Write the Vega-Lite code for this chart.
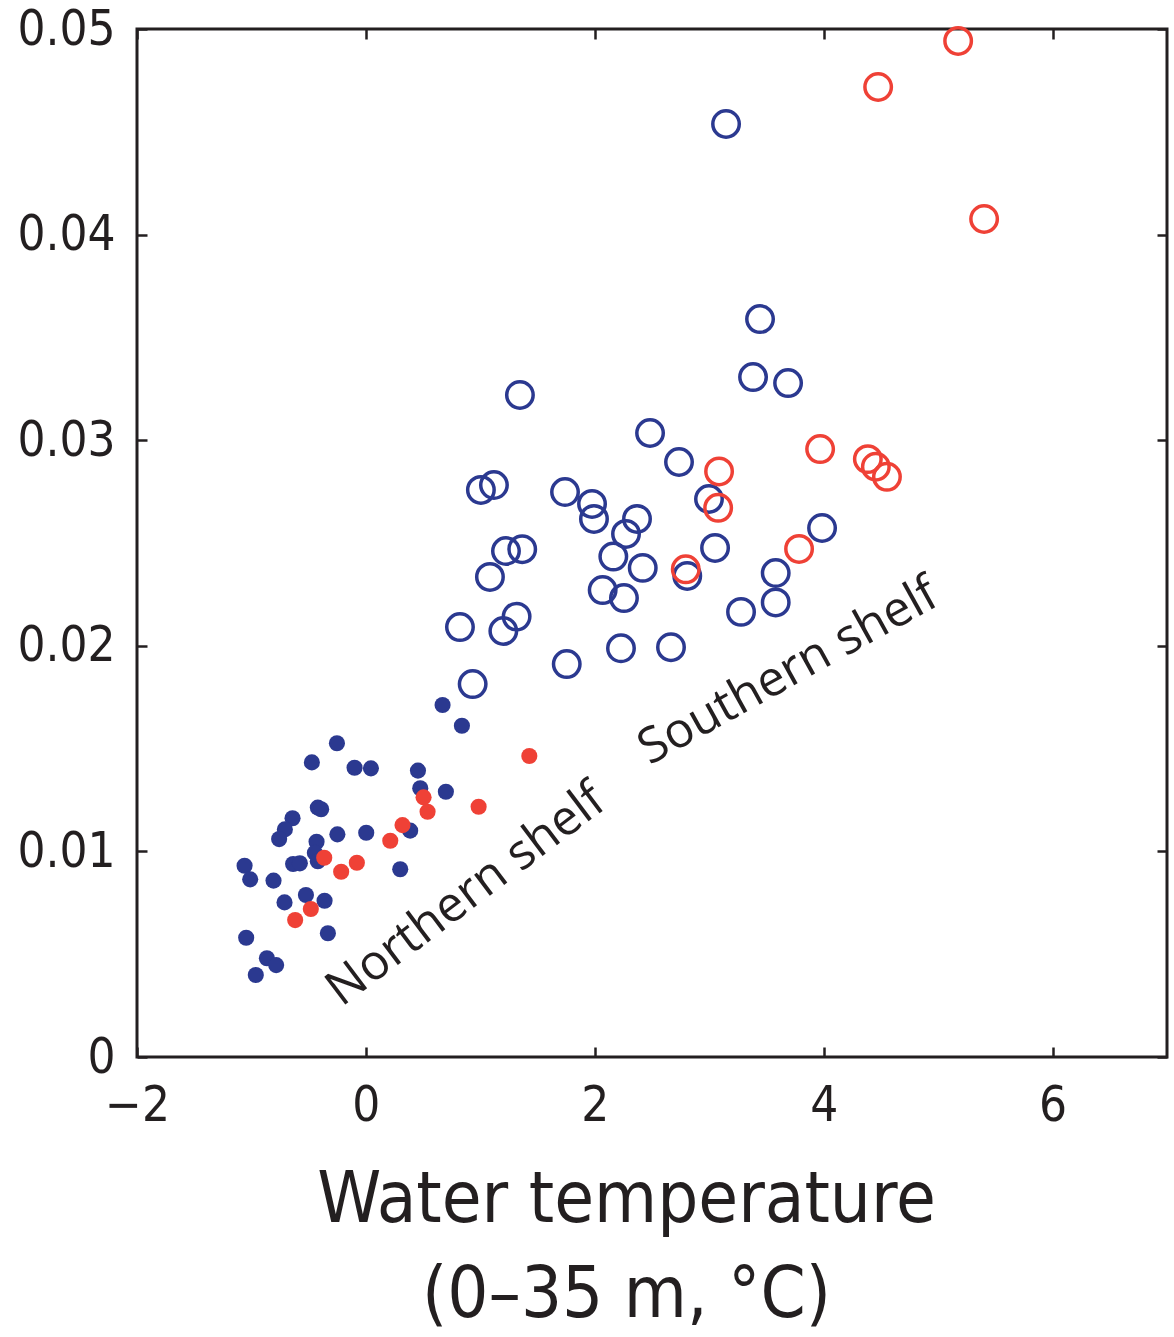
{
  "$schema": "https://vega.github.io/schema/vega-lite/v6.json",
  "width": 1030,
  "height": 1028,
  "autosize": {"type": "none"},
  "padding": {"left": 137, "top": 29, "right": 7, "bottom": 280},
  "background": "white",
  "config": {
    "view": {"stroke": "#231F20", "strokeWidth": 3},
    "axis": {
      "grid": false,
      "domain": false,
      "ticks": true,
      "tickSize": -10,
      "tickWidth": 2.5,
      "tickColor": "#231F20",
      "labelFlush": false,
      "labelFont": "Liberation Sans Narrow, DejaVu Sans Condensed, sans-serif",
      "labelFontSize": 49,
      "labelColor": "#231F20",
      "titleFont": "Liberation Sans Narrow, DejaVu Sans Condensed, sans-serif",
      "titleFontSize": 72,
      "titleFontWeight": "normal",
      "titleColor": "#231F20"
    }
  },
  "datasets": {
    "samples": [
      {"temp": 3.147, "value": 0.04538, "shelf": "Southern", "series": "1"},
      {"temp": 3.444, "value": 0.03589, "shelf": "Southern", "series": "1"},
      {"temp": 3.383, "value": 0.03307, "shelf": "Southern", "series": "1"},
      {"temp": 3.689, "value": 0.03278, "shelf": "Southern", "series": "1"},
      {"temp": 1.346, "value": 0.0322, "shelf": "Southern", "series": "1"},
      {"temp": 2.483, "value": 0.03035, "shelf": "Southern", "series": "1"},
      {"temp": 2.736, "value": 0.02894, "shelf": "Southern", "series": "1"},
      {"temp": 1.005, "value": 0.02758, "shelf": "Southern", "series": "1"},
      {"temp": 1.119, "value": 0.02782, "shelf": "Southern", "series": "1"},
      {"temp": 1.74, "value": 0.02748, "shelf": "Southern", "series": "1"},
      {"temp": 1.976, "value": 0.0269, "shelf": "Southern", "series": "1"},
      {"temp": 1.993, "value": 0.02617, "shelf": "Southern", "series": "1"},
      {"temp": 2.369, "value": 0.02617, "shelf": "Southern", "series": "1"},
      {"temp": 2.273, "value": 0.02544, "shelf": "Southern", "series": "1"},
      {"temp": 2.998, "value": 0.02714, "shelf": "Southern", "series": "1"},
      {"temp": 3.986, "value": 0.02573, "shelf": "Southern", "series": "1"},
      {"temp": 2.162, "value": 0.02434, "shelf": "Southern", "series": "1"},
      {"temp": 2.419, "value": 0.02379, "shelf": "Southern", "series": "1"},
      {"temp": 3.051, "value": 0.02476, "shelf": "Southern", "series": "1"},
      {"temp": 1.224, "value": 0.02461, "shelf": "Southern", "series": "1"},
      {"temp": 1.366, "value": 0.0247, "shelf": "Southern", "series": "1"},
      {"temp": 1.084, "value": 0.02335, "shelf": "Southern", "series": "1"},
      {"temp": 2.069, "value": 0.02271, "shelf": "Southern", "series": "1"},
      {"temp": 2.255, "value": 0.02232, "shelf": "Southern", "series": "1"},
      {"temp": 2.808, "value": 0.0234, "shelf": "Southern", "series": "1"},
      {"temp": 3.581, "value": 0.02354, "shelf": "Southern", "series": "1"},
      {"temp": 3.581, "value": 0.02211, "shelf": "Southern", "series": "1"},
      {"temp": 3.278, "value": 0.02165, "shelf": "Southern", "series": "1"},
      {"temp": 1.317, "value": 0.02142, "shelf": "Southern", "series": "1"},
      {"temp": 1.201, "value": 0.02072, "shelf": "Southern", "series": "1"},
      {"temp": 0.822, "value": 0.02091, "shelf": "Southern", "series": "1"},
      {"temp": 1.755, "value": 0.01911, "shelf": "Southern", "series": "1"},
      {"temp": 2.229, "value": 0.01988, "shelf": "Southern", "series": "1"},
      {"temp": 2.666, "value": 0.01993, "shelf": "Southern", "series": "1"},
      {"temp": 0.933, "value": 0.01814, "shelf": "Southern", "series": "1"},
      {"temp": 5.175, "value": 0.04942, "shelf": "Southern", "series": "2"},
      {"temp": 4.476, "value": 0.04718, "shelf": "Southern", "series": "2"},
      {"temp": 5.402, "value": 0.04076, "shelf": "Southern", "series": "2"},
      {"temp": 3.969, "value": 0.02957, "shelf": "Southern", "series": "2"},
      {"temp": 4.386, "value": 0.02908, "shelf": "Southern", "series": "2"},
      {"temp": 4.456, "value": 0.02871, "shelf": "Southern", "series": "2"},
      {"temp": 4.553, "value": 0.02822, "shelf": "Southern", "series": "2"},
      {"temp": 3.086, "value": 0.02848, "shelf": "Southern", "series": "2"},
      {"temp": 3.078, "value": 0.02671, "shelf": "Southern", "series": "2"},
      {"temp": 2.795, "value": 0.02372, "shelf": "Southern", "series": "2"},
      {"temp": 3.785, "value": 0.02471, "shelf": "Southern", "series": "2"},
      {"temp": 0.67, "value": 0.01712, "shelf": "Northern", "series": "1"},
      {"temp": 0.839, "value": 0.01611, "shelf": "Northern", "series": "1"},
      {"temp": -0.253, "value": 0.01526, "shelf": "Northern", "series": "1"},
      {"temp": -0.472, "value": 0.01433, "shelf": "Northern", "series": "1"},
      {"temp": -0.099, "value": 0.01407, "shelf": "Northern", "series": "1"},
      {"temp": 0.044, "value": 0.01404, "shelf": "Northern", "series": "1"},
      {"temp": 0.455, "value": 0.01393, "shelf": "Northern", "series": "1"},
      {"temp": 0.475, "value": 0.01307, "shelf": "Northern", "series": "1"},
      {"temp": 0.699, "value": 0.0129, "shelf": "Northern", "series": "1"},
      {"temp": -0.641, "value": 0.01161, "shelf": "Northern", "series": "1"},
      {"temp": -0.708, "value": 0.01107, "shelf": "Northern", "series": "1"},
      {"temp": -0.758, "value": 0.0106, "shelf": "Northern", "series": "1"},
      {"temp": -0.42, "value": 0.01213, "shelf": "Northern", "series": "1"},
      {"temp": -0.391, "value": 0.01205, "shelf": "Northern", "series": "1"},
      {"temp": -0.249, "value": 0.01083, "shelf": "Northern", "series": "1"},
      {"temp": 0.003, "value": 0.01091, "shelf": "Northern", "series": "1"},
      {"temp": 0.387, "value": 0.01101, "shelf": "Northern", "series": "1"},
      {"temp": -0.431, "value": 0.01047, "shelf": "Northern", "series": "1"},
      {"temp": -0.446, "value": 0.00993, "shelf": "Northern", "series": "1"},
      {"temp": -0.42, "value": 0.00952, "shelf": "Northern", "series": "1"},
      {"temp": -0.636, "value": 0.00939, "shelf": "Northern", "series": "1"},
      {"temp": -0.577, "value": 0.00942, "shelf": "Northern", "series": "1"},
      {"temp": -1.06, "value": 0.0093, "shelf": "Northern", "series": "1"},
      {"temp": -1.011, "value": 0.00864, "shelf": "Northern", "series": "1"},
      {"temp": -0.807, "value": 0.00858, "shelf": "Northern", "series": "1"},
      {"temp": 0.3, "value": 0.00913, "shelf": "Northern", "series": "1"},
      {"temp": -0.524, "value": 0.00788, "shelf": "Northern", "series": "1"},
      {"temp": -0.711, "value": 0.00752, "shelf": "Northern", "series": "1"},
      {"temp": -0.361, "value": 0.0076, "shelf": "Northern", "series": "1"},
      {"temp": -0.332, "value": 0.00602, "shelf": "Northern", "series": "1"},
      {"temp": -1.046, "value": 0.0058, "shelf": "Northern", "series": "1"},
      {"temp": -0.865, "value": 0.0048, "shelf": "Northern", "series": "1"},
      {"temp": -0.784, "value": 0.00447, "shelf": "Northern", "series": "1"},
      {"temp": -0.962, "value": 0.00399, "shelf": "Northern", "series": "1"},
      {"temp": 1.428, "value": 0.01464, "shelf": "Northern", "series": "2"},
      {"temp": 0.985, "value": 0.01217, "shelf": "Northern", "series": "2"},
      {"temp": 0.504, "value": 0.01263, "shelf": "Northern", "series": "2"},
      {"temp": 0.539, "value": 0.01193, "shelf": "Northern", "series": "2"},
      {"temp": 0.32, "value": 0.01128, "shelf": "Northern", "series": "2"},
      {"temp": 0.213, "value": 0.01052, "shelf": "Northern", "series": "2"},
      {"temp": -0.364, "value": 0.00969, "shelf": "Northern", "series": "2"},
      {"temp": -0.079, "value": 0.00945, "shelf": "Northern", "series": "2"},
      {"temp": -0.216, "value": 0.00901, "shelf": "Northern", "series": "2"},
      {"temp": -0.481, "value": 0.0072, "shelf": "Northern", "series": "2"},
      {"temp": -0.618, "value": 0.00666, "shelf": "Northern", "series": "2"}
    ],
    "regions": [
      {"temp": 0.874, "value": 0.00788, "label": "Northern shelf"},
      {"temp": 3.69, "value": 0.01875, "label": "Southern shelf"}
    ]
  },
  "layer": [
    {
      "data": {"name": "samples"},
      "transform": [{"filter": "datum.shelf === 'Southern'"}],
      "mark": {"type": "point", "shape": "circle", "filled": false, "size": 700, "strokeWidth": 3.5, "opacity": 1},
      "encoding": {
        "x": {
          "field": "temp", "type": "quantitative",
          "scale": {"domain": [-2, 7], "nice": false, "zero": false},
          "axis": {
            "orient": "bottom", "values": [-2, 0, 2, 4, 6], "labelPadding": 34,
            "title": ["Water temperature", "(0–35 m, °C)"],
            "titlePadding": 34, "titleLineHeight": 95, "titleX": 489
          }
        },
        "y": {
          "field": "value", "type": "quantitative",
          "scale": {"domain": [0, 0.05], "nice": false, "zero": true},
          "axis": {"orient": "left", "values": [0, 0.01, 0.02, 0.03, 0.04, 0.05], "format": ".2~f", "labelPadding": 32, "title": null}
        },
        "color": {
          "field": "series", "type": "nominal",
          "scale": {"domain": ["1", "2"], "range": ["#2B3990", "#EF4136"]},
          "legend": null
        }
      }
    },
    {
      "data": {"name": "samples"},
      "transform": [{"filter": "datum.shelf === 'Northern'"}],
      "mark": {"type": "circle", "size": 260, "opacity": 1},
      "encoding": {
        "x": {
          "field": "temp", "type": "quantitative",
          "axis": {"orient": "top", "values": [-2, 0, 2, 4, 6], "labels": false, "title": null}
        },
        "y": {
          "field": "value", "type": "quantitative",
          "axis": {"orient": "right", "values": [0, 0.01, 0.02, 0.03, 0.04, 0.05], "labels": false, "title": null}
        },
        "color": {"field": "series", "type": "nominal", "legend": null}
      }
    },
    {
      "data": {"name": "regions"},
      "transform": [{"filter": "datum.label === 'Northern shelf'"}],
      "mark": {"type": "text", "angle": 323, "align": "center", "baseline": "middle", "font": "Open Sans", "fontSize": 49, "color": "#231F20"},
      "encoding": {
        "x": {"field": "temp", "type": "quantitative", "axis": null},
        "y": {"field": "value", "type": "quantitative", "axis": null},
        "text": {"field": "label"}
      }
    },
    {
      "data": {"name": "regions"},
      "transform": [{"filter": "datum.label === 'Southern shelf'"}],
      "mark": {"type": "text", "angle": 331, "align": "center", "baseline": "middle", "font": "Open Sans", "fontSize": 49, "color": "#231F20"},
      "encoding": {
        "x": {"field": "temp", "type": "quantitative", "axis": null},
        "y": {"field": "value", "type": "quantitative", "axis": null},
        "text": {"field": "label"}
      }
    }
  ]
}
